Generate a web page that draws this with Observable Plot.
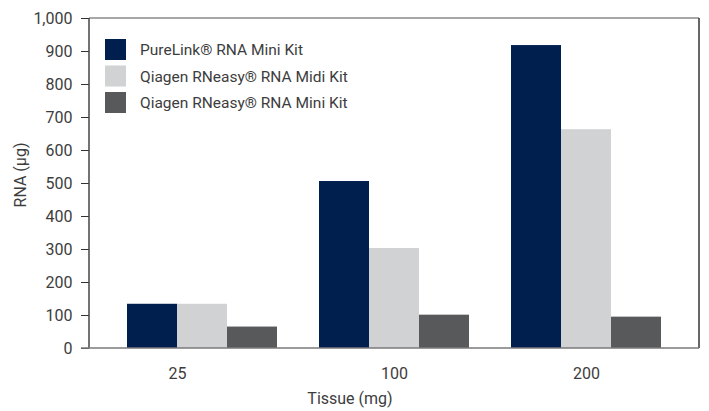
<!DOCTYPE html>
<html><head><meta charset="utf-8">
<script src="https://cdn.jsdelivr.net/npm/d3@7"></script>
<script src="https://cdn.jsdelivr.net/npm/@observablehq/plot@0.6"></script>
<style>
body{margin:0;background:#fff;}
#chart{position:relative;width:709px;height:411px;}
</style></head>
<body><div id="chart"></div>
<script>
const tissues = ["25", "100", "200"];
const kits = ["PureLink® RNA Mini Kit", "Qiagen RNeasy® RNA Midi Kit", "Qiagen RNeasy® RNA Mini Kit"];
const pureLinkMini = [134, 506, 918];
const rneasyMidi = [134, 303, 663];
const rneasyMini = [65, 101, 95];
const kitColors = ["#001f4e", "#d1d2d4", "#58595b"];
const yTicks = [0, 100, 200, 300, 400, 500, 600, 700, 800, 900, 1000];
const xLabel = "Tissue (mg)";
const yLabel = "RNA (µg)";

const series = [pureLinkMini, rneasyMidi, rneasyMini];
const data = tissues.flatMap((t, i) => kits.map((k, j) => ({tissue: t, kit: k, value: series[j][i]})));

const font = "Roboto, 'Noto Sans', sans-serif";
const W = 709, H = 411, mL = 89, mR = 10, mT = 18, mB = 63;

const chart = Plot.plot({
  width: W, height: H,
  marginLeft: mL, marginRight: mR, marginTop: mT, marginBottom: mB,
  style: {fontFamily: font, fontSize: "16px", color: "#3d3d3d", background: "#fff", overflow: "visible"},
  facet: {data, x: "tissue"},
  fx: {domain: tissues, paddingInner: 0.2208, paddingOuter: 0.192, label: null, tickSize: 0, tickPadding: 19},
  x: {domain: kits, padding: 0, axis: null},
  y: {domain: [0, 1000], ticks: yTicks, tickFormat: d3.format(","), tickSize: 8, tickPadding: 9, label: null},
  color: {domain: kits, range: kitColors},
  marks: [
    Plot.barY(data, {x: "kit", y: "value", fill: "kit"})
  ]
});
document.getElementById("chart").appendChild(chart);

const svg = d3.select(chart);
const yS = chart.scale("y");
const cS = chart.scale("color");
const fxS = chart.scale("fx");
const y0 = yS.apply(0), y1 = yS.apply(1000);
const xL = mL, xR = W - mR;

// the y axis is drawn beside the first facet; move it to the plot's left edge
const firstFacetLeft = fxS ? fxS.apply(tissues[0]) : mL;
const shift = mL - firstFacetLeft;
svg.selectAll("[aria-label^='y-axis']").each(function () {
  const t = this.getAttribute("transform") || "";
  this.setAttribute("transform", `translate(${shift},0) ${t}`);
});
svg.selectAll("[aria-label^='y-axis'] path, [aria-label^='y-axis'] line").attr("stroke", "#333").attr("stroke-opacity", 1);

// the reference sets the first tissue label left of its group centre
svg.selectAll("[aria-label^='fx-axis'] text").filter(function () {
  return this.textContent === tissues[0];
}).attr("dx", -25);

const g = svg.append("g");
g.append("line").attr("x1", xL).attr("x2", xR).attr("y1", y1).attr("y2", y1).attr("stroke", "#8a8a8a").attr("stroke-width", 1.5);
g.append("line").attr("x1", xR).attr("x2", xR).attr("y1", y1).attr("y2", y0).attr("stroke", "#333").attr("stroke-width", 1.5);
g.append("line").attr("x1", xL).attr("x2", xL).attr("y1", y1).attr("y2", y0).attr("stroke", "#444").attr("stroke-width", 1.5);
g.append("line").attr("x1", xL - 8).attr("x2", xR).attr("y1", y0).attr("y2", y0).attr("stroke", "#7a7a7a").attr("stroke-width", 1.5);

// axis labels
svg.append("text").attr("x", 350).attr("y", 404).attr("text-anchor", "middle")
  .attr("font-family", font).attr("font-size", 16).attr("fill", "#3d3d3d").text(xLabel);
svg.append("text").attr("transform", `translate(26,${(y0 + y1) / 2 - 8}) rotate(-90)`).attr("text-anchor", "middle")
  .attr("font-family", font).attr("font-size", 16).attr("fill", "#3d3d3d").text(yLabel);

// legend
const lg = svg.append("g").attr("transform", "translate(105,39)");
kits.forEach((k, i) => {
  const row = lg.append("g").attr("transform", `translate(0,${i * 26.5})`);
  row.append("rect").attr("width", 21).attr("height", 21).attr("fill", cS.apply(k));
  row.append("text").attr("x", 35).attr("y", 10.5).attr("dy", "0.36em").attr("text-anchor", "start")
    .attr("font-family", font).attr("font-size", 15.5).attr("fill", "#3d3d3d").text(k);
});
</script>
</body></html>
